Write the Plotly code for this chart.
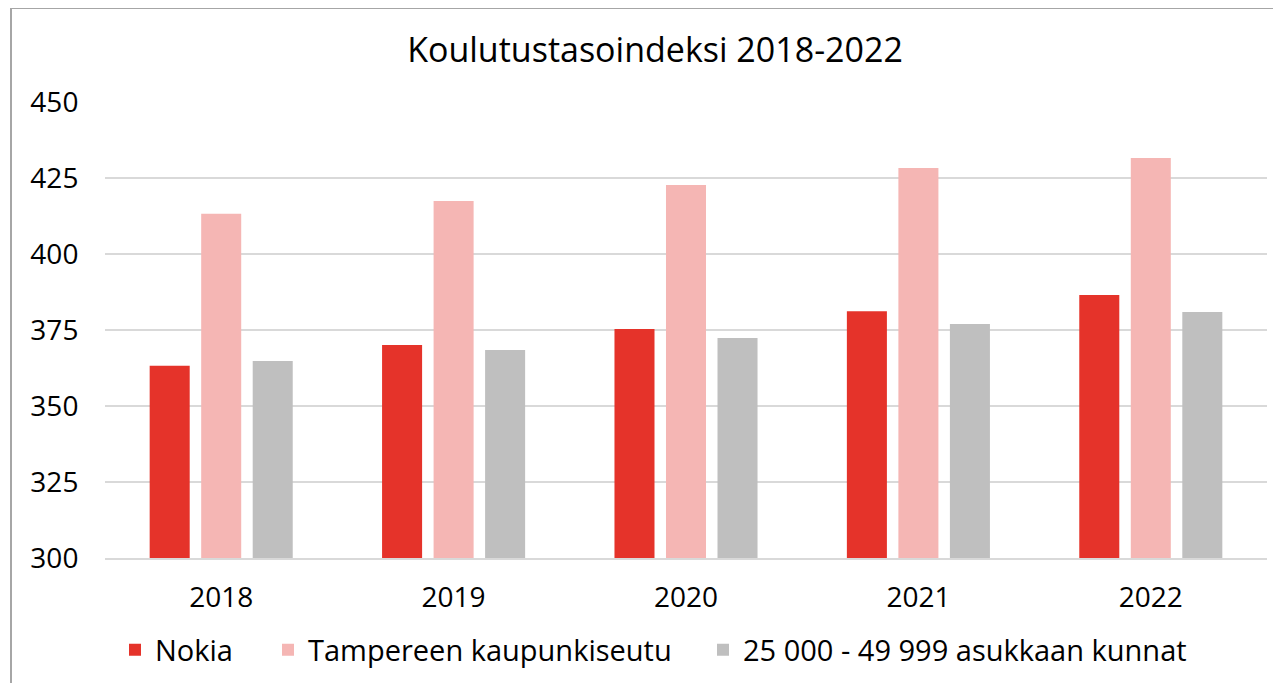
import plotly.graph_objects as go

years = ["2018", "2019", "2020", "2021", "2022"]
nokia = [363.2, 370.1, 375.3, 381.2, 386.5]
tampere = [413.2, 417.4, 422.7, 428.3, 431.6]
kunnat = [364.8, 368.4, 372.4, 377.0, 380.9]
names = ["Nokia", "Tampereen kaupunkiseutu", "25 000 - 49 999 asukkaan kunnat"]
colors = ["#E5332A", "#F5B6B4", "#BFBFBF"]
yticks = [300, 325, 350, 375, 400, 425, 450]

W, H = 1281, 683
OFF = 8  # page body offset
ml, mr, mt, mb = 105 - OFF, 22, 102 - OFF, H - (558 - OFF)
pw, ph = W - ml - mr, H - mt - mb

legend_ids = ["legend", "legend2", "legend3"]
text_starts = [155, 308, 743]  # desired text x in screenshot

fig = go.Figure()
for name, vals, c, lg in zip(names, [nokia, tampere, kunnat], colors, legend_ids):
    fig.add_trace(go.Bar(x=years, y=vals, name=name, legend=lg,
                         marker=dict(color=c, line=dict(width=0))))

legend_common = dict(orientation="h", xanchor="left", yanchor="middle",
                     y=-(650 - 558) / ph, font=dict(size=29), itemwidth=30,
                     bgcolor="rgba(0,0,0,0)", borderwidth=0)
legends = {}
for lg, ts in zip(legend_ids, text_starts):
    legends[lg] = dict(legend_common, x=(ts - OFF - 40 - ml) / pw)

fig.update_layout(
    width=W, height=H,
    margin=dict(l=ml, r=mr, t=mt, b=mb, autoexpand=False),
    paper_bgcolor="white", plot_bgcolor="white",
    font=dict(family="Open Sans, sans-serif", color="#000000", size=28),
    barmode="group", bargap=0.335, bargroupgap=0.223,
    title=dict(text="Koulutustasoindeksi 2018-2022", x=(655 - OFF) / W, xanchor="center",
               y=1 - (50 - OFF) / H, yanchor="middle", font=dict(size=34, color="#000")),
    showlegend=True,
    xaxis=dict(showline=True, linecolor="#D9D9D9", linewidth=2, ticks="outside", ticklen=13,
               tickcolor="white", showgrid=False, tickfont=dict(size=28)),
    yaxis=dict(range=[300, 450], tickvals=yticks, showgrid=True, gridcolor="#D9D9D9", gridwidth=2,
               zeroline=False, ticks="outside", ticklen=20, tickcolor="white",
               tickfont=dict(size=28)),
    **legends,
)
fig.add_shape(type="rect", xref="paper", yref="paper",
              x0=(11 - OFF - ml) / pw, x1=(1300 - ml) / pw,
              y0=-(700 - (H - mb)) / ph, y1=1 + (mt - 0) / ph,
              line=dict(color="#A6A6A6", width=2), layer="below")
fig.write_html("out.html")
